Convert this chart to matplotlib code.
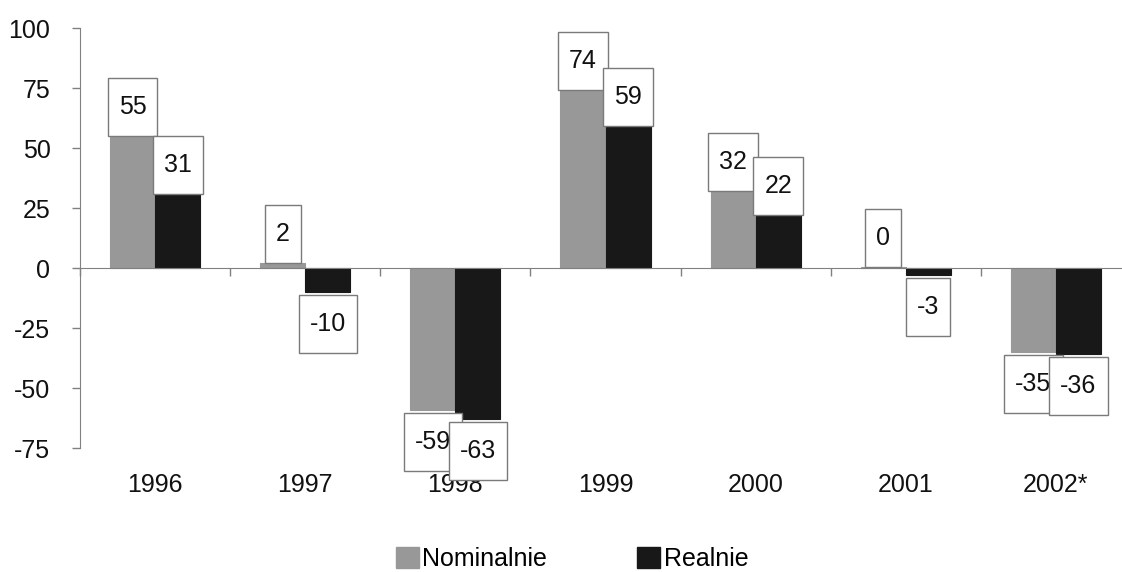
import matplotlib
matplotlib.use('Agg')
import matplotlib.pyplot as plt
import matplotlib.patches as mpatches
from matplotlib.transforms import IdentityTransform
import numpy as np

plt.rcParams['font.family'] = ['Liberation Sans', 'DejaVu Sans']
plt.rcParams['axes.unicode_minus'] = False

# data
years = ['1996', '1997', '1998', '1999', '2000', '2001', '2002*']
nominalnie = [55, 2, -59, 74, 32, 0.45, -35]
realnie = [31, -10, -63, 59, 22, -3, -36]
series_names = ['Nominalnie', 'Realnie']

GRAY = '#989898'
BLACK = '#181818'
AXIS = '#808080'
FS = 18

fig = plt.figure(figsize=(11.22, 5.72), dpi=100)
ax = fig.add_axes([80 / 1122, 1 - 448 / 572, 1051 / 1122, 420 / 572])

x = np.arange(len(years))
w = 0.3
ax.bar(x - w / 2, nominalnie, w, color=GRAY, edgecolor=GRAY, lw=0.8, zorder=2)
ax.bar(x + w / 2, realnie, w, color=BLACK, edgecolor=BLACK, lw=0.8, zorder=2)

ax.set_xlim(-0.5, len(years) - 0.5)
ax.set_ylim(-75, 100)
ax.set_yticks([-75, -50, -25, 0, 25, 50, 75, 100])

# spines: left axis and zero line only
for s in ['top', 'right']:
    ax.spines[s].set_visible(False)
ax.spines['bottom'].set_position(('data', 0))
ax.spines['left'].set_color(AXIS)
ax.spines['bottom'].set_color(AXIS)
ax.spines['left'].set_zorder(1)
ax.spines['bottom'].set_zorder(3)

ax.set_xticks(np.arange(len(years) + 1) - 0.5)
ax.set_xticklabels([])
ax.tick_params(axis='x', direction='out', length=5.5, color=AXIS, width=1)
ax.tick_params(axis='y', direction='out', length=5.8, color=AXIS, width=1,
               labelsize=FS, pad=15.5, labelcolor='#111111')

# category labels sit at the bottom, not at the zero line
for i, yr in enumerate(years):
    ax.text(i, -0.088, yr, transform=ax.get_xaxis_transform(), ha='center',
            va='center', fontsize=FS, color='#111111')

# value labels in white boxes
renderer = fig.canvas.get_renderer()
box_h = 58
hpad = 11
z = 5
for i in range(len(years)):
    for off, v in [(-w / 2, nominalnie[i]), (w / 2, realnie[i])]:
        dy = 29 if v >= 0 else -32
        t = ax.annotate('%d' % round(v), xy=(i + off, v), xytext=(0, dy),
                        textcoords='offset pixels', ha='center', va='center',
                        fontsize=FS, color='#111111', zorder=z + 1,
                        annotation_clip=False)
        ext = t.get_window_extent(renderer=renderer)
        cx, cy = ax.transData.transform((i + off, v))
        cy += dy
        bw = ext.width + 2 * hpad
        rect = mpatches.Rectangle((cx - bw / 2, cy - box_h / 2), bw, box_h,
                                  transform=IdentityTransform(), facecolor='white',
                                  edgecolor='#7a7a7a', lw=1, zorder=z, clip_on=False)
        ax.add_artist(rect)
        z += 2

handles = [mpatches.Patch(color=GRAY), mpatches.Patch(color=BLACK)]
fig.legend(handles, series_names, loc='center', bbox_to_anchor=(0.51, 0.022),
           ncol=2, frameon=False, fontsize=FS, handlelength=0.92,
           handleheight=0.9, handletextpad=0.15, columnspacing=3.6)

fig.savefig('out.png', dpi=100)
